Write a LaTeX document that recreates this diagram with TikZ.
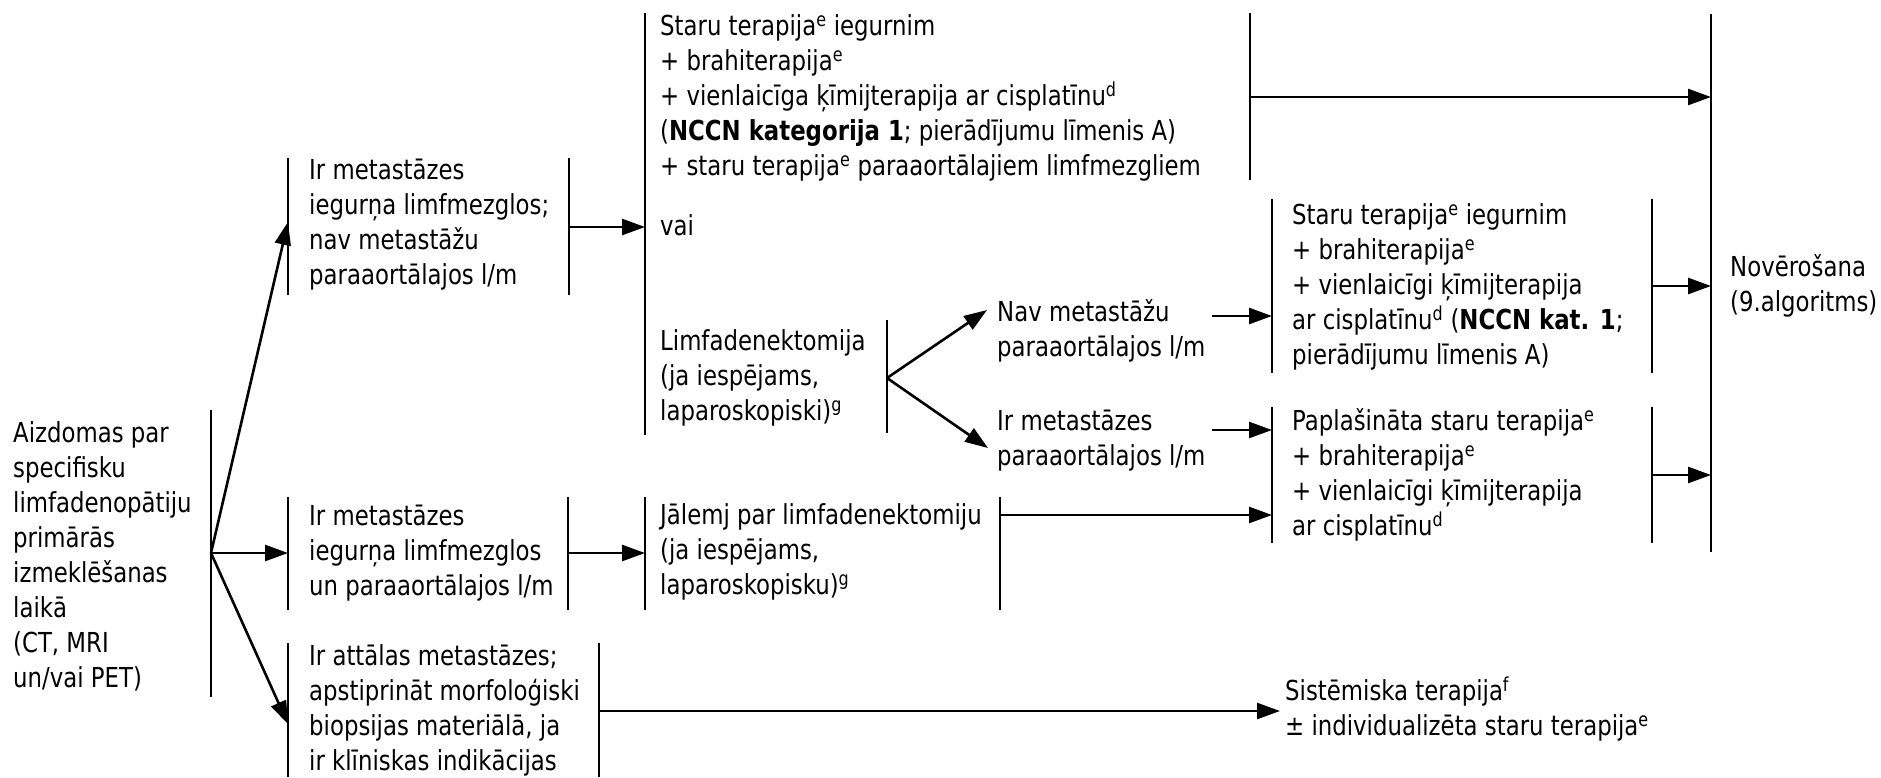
\documentclass[tikz,border=0pt]{standalone}
\usepackage{fontspec}
\setmainfont{DejaVu Sans}[FakeStretch=0.83]
\usetikzlibrary{arrows.meta}
\newcommand\sups[1]{\textsuperscript{#1}}
\begin{document}
\begin{tikzpicture}[x=1pt,y=-1pt,
  txt/.style={anchor=north west, inner sep=0pt, align=left,
              font=\fontsize{27.5}{35}\selectfont},
  bar/.style={line width=2pt},
  arr/.style={line width=2.6pt, -{Triangle[length=23pt,width=16pt]}},
]
\useasboundingbox (0,0) rectangle (1881,777);

% ---------- text blocks ----------
\node[txt] (susp) at (13,417.5) {\strut Aizdomas par\\\strut specifisku\\\strut limfadenopātiju\\\strut primārās\\\strut izmeklēšanas\\\strut laikā\\\strut (CT, MRI\\\strut un/vai PET)};
\node[txt] (pelv) at (309,154.5) {\strut Ir metastāzes\\\strut iegurņa limfmezglos;\\\strut nav metastāžu\\\strut paraaortālajos l/m};
\node[txt] (both) at (309,500.5) {\strut Ir metastāzes\\\strut iegurņa limfmezglos\\\strut un paraaortālajos l/m};
\node[txt] (dist) at (309,640.5) {\strut Ir attālas metastāzes;\\\strut apstiprināt morfoloģiski\\\strut biopsijas materiālā, ja\\\strut ir klīniskas indikācijas};
\node[txt] (crt) at (660,10.5) {\strut Staru terapija\sups{e} iegurnim\\\strut + brahiterapija\sups{e}\\\strut + vienlaicīga ķīmijterapija ar cisplatīnu\sups{d}\\\strut (\textbf{NCCN kategorija 1}; pierādījumu līmenis A)\\\strut + staru terapija\sups{e} paraaortālajiem limfmezgliem};
\node[txt] (vai) at (660,210.5) {\strut vai};
\node[txt] (lnd) at (660,325.5) {\strut Limfadenektomija\\\strut (ja iespējams,\\\strut laparoskopiski)\sups{g}};
\node[txt] (neg) at (997,296.5) {\strut Nav metastāžu\\\strut paraaortālajos l/m};
\node[txt] (pos) at (997,405.5) {\strut Ir metastāzes\\\strut paraaortālajos l/m};
\node[txt] (dec) at (660,499.5) {\strut Jālemj par limfadenektomiju\\\strut (ja iespējams,\\\strut laparoskopisku)\sups{g}};
\node[txt] (pcrt) at (1292,199.5) {\strut Staru terapija\sups{e} iegurnim\\\strut + brahiterapija\sups{e}\\\strut + vienlaicīgi ķīmijterapija\\\strut ar cisplatīnu\sups{d} (\textbf{NCCN kat. 1};\\\strut pierādījumu līmenis A)};
\node[txt] (ecrt) at (1292,405.5) {\strut Paplašināta staru terapija\sups{e}\\\strut + brahiterapija\sups{e}\\\strut + vienlaicīgi ķīmijterapija\\\strut ar cisplatīnu\sups{d}};
\node[txt] (obs) at (1730,251.5) {\strut Novērošana\\\strut (9.algoritms)};
\node[txt] (sys) at (1285,675.5) {\strut Sistēmiska terapija\sups{f}\\\strut ± individualizēta staru terapija\sups{e}};

% ---------- box borders ----------
\draw[bar] (211,410) -- (211,697);
\draw[bar] (288,158) -- (288,295);  \draw[bar] (569,158) -- (569,295);
\draw[bar] (288,497) -- (288,610);  \draw[bar] (568,497) -- (568,610);
\draw[bar] (288,643) -- (288,777);  \draw[bar] (599,643) -- (599,777);
\draw[bar] (645,13) -- (645,435);   \draw[bar] (1250,13) -- (1250,180);
\draw[bar] (887,320) -- (887,433);
\draw[bar] (645,497) -- (645,610);  \draw[bar] (1000,497) -- (1000,610);
\draw[bar] (1272,199) -- (1272,373); \draw[bar] (1652,199) -- (1652,373);
\draw[bar] (1272,407) -- (1272,543); \draw[bar] (1652,407) -- (1652,543);
\draw[bar] (1711,14) -- (1711,552);

% ---------- connector end points ----------
\coordinate (suspR) at (211,553);
\coordinate (pelvL) at (288,222);  \coordinate (pelvR) at (569,227);
\coordinate (bothL) at (288,553);  \coordinate (bothR) at (568,553);
\coordinate (distL) at (288,724);  \coordinate (distR) at (599,711);
\coordinate (orL)   at (645,227);  \coordinate (crtR)  at (1250,97);
\coordinate (lndR)  at (887,378);
\coordinate (negL)  at (987,310);  \coordinate (posL)  at (988,448);
\coordinate (negR)  at (1212,316); \coordinate (posR)  at (1212,430);
\coordinate (decL)  at (645,553);  \coordinate (decR)  at (1000,515);
\coordinate (pcrtL) at (1272,316); \coordinate (pcrtR) at (1652,286);
\coordinate (ecrtL) at (1272,430); \coordinate (ecrtL2) at (1272,515);
\coordinate (ecrtR) at (1652,475);
\coordinate (obsT)  at (1711,97);  \coordinate (obsM) at (1711,286);
\coordinate (obsB)  at (1711,475);
\coordinate (sysL)  at (1280,711);

% ---------- connectors ----------
\draw[arr] (suspR) -- (pelvL);
\draw[arr] (suspR) -- (bothL);
\draw[arr] (suspR) -- (distL);
\draw[arr] (pelvR) -- (orL);
\draw[arr] (bothR) -- (decL);
\draw[arr] (distR) -- (sysL);
\draw[arr] (crtR) -- (obsT);
\draw[arr] (lndR) -- (negL);
\draw[arr] (lndR) -- (posL);
\draw[arr] (negR) -- (pcrtL);
\draw[arr] (posR) -- (ecrtL);
\draw[arr] (decR) -- (ecrtL2);
\draw[arr] (pcrtR) -- (obsM);
\draw[arr] (ecrtR) -- (obsB);
\end{tikzpicture}
\end{document}
